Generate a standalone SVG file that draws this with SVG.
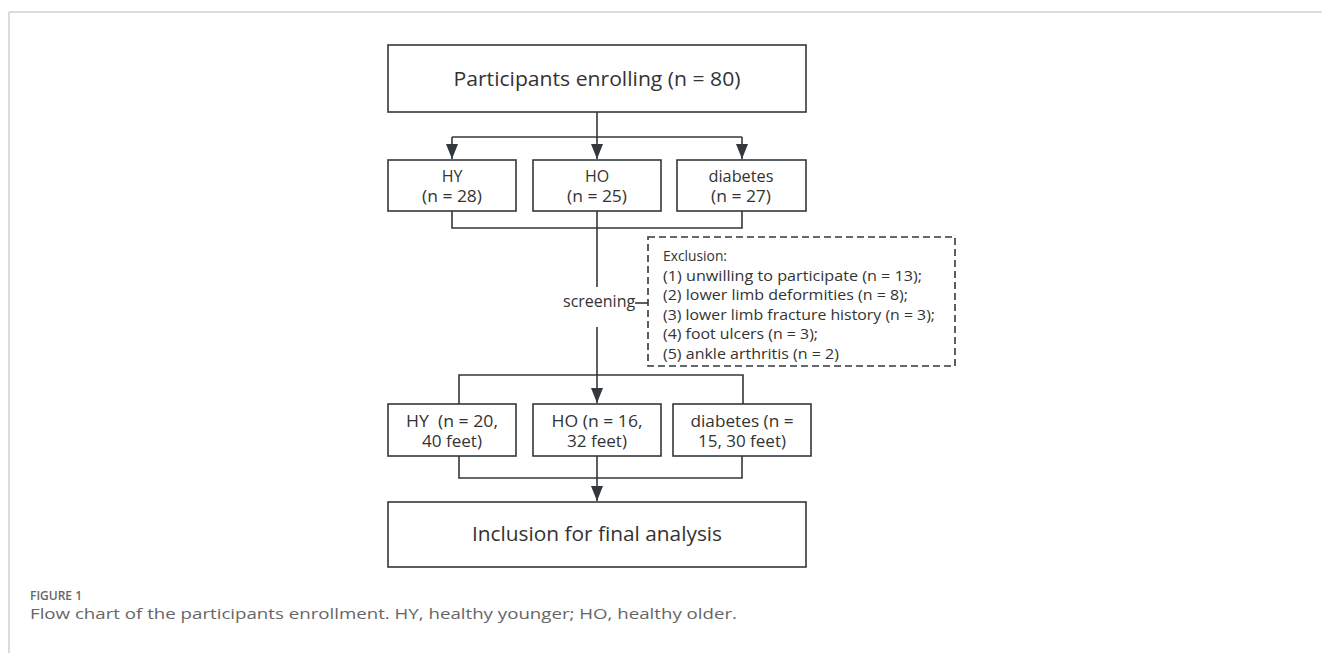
<svg xmlns="http://www.w3.org/2000/svg" width="1322" height="653" viewBox="0 0 1322 653">
<defs>
<style>
.box{fill:#fff;stroke:#33383c;stroke-width:1.6}
.dash{fill:none;stroke:#33383c;stroke-width:1.6;stroke-dasharray:7,4}
.ln{fill:none;stroke:#33383c;stroke-width:1.6}
.t{font-family:"Open Sans","Noto Sans",sans-serif;fill:#333;}
.c{text-anchor:middle}
.cap{font-family:"Open Sans","Noto Sans",sans-serif;fill:#666}
</style>
<marker id="ah" markerWidth="15" markerHeight="12" refX="15" refY="6" orient="auto" markerUnits="userSpaceOnUse" viewBox="0 0 15 12">
<path d="M0,0 L15,6 L0,12 Z" fill="#33383c"/>
</marker>
</defs>
<rect width="1322" height="653" fill="#fff"/>
<g id="frame">
<line x1="9" y1="12" x2="1322" y2="12" stroke="#d0d0d0" stroke-width="1.5"/>
<line x1="9" y1="12" x2="9" y2="653" stroke="#d0d0d0" stroke-width="1.5"/>
</g>
<g id="connectors">
<path class="ln" d="M597,112 V137"/>
<path class="ln" d="M452,137 H742"/>
<path class="ln" d="M452,137 V159" marker-end="url(#ah)"/>
<path class="ln" d="M597,137 V159" marker-end="url(#ah)"/>
<path class="ln" d="M742,137 V159" marker-end="url(#ah)"/>
<path class="ln" d="M452,211 V228 H742 V211"/>
<path class="ln" d="M597,211 V287"/>
<path class="ln" d="M635,303 H648"/>
<path class="ln" d="M597,327 V403" marker-end="url(#ah)"/>
<path class="ln" d="M459,404 V375 H743 V404"/>
<path class="ln" d="M459,456 V478 H742 V456"/>
<path class="ln" d="M597,456 V501" marker-end="url(#ah)"/>
</g>
<g id="n-enroll">
<rect class="box" x="388" y="45" width="418" height="67"/>
<text class="t c" x="597" y="86" font-size="20" textLength="287" lengthAdjust="spacingAndGlyphs">Participants enrolling (n = 80)</text>
</g>
<g id="n-hy1">
<rect class="box" x="388" y="160" width="128" height="51"/>
<text class="t c" x="452" y="182" font-size="16">HY</text>
<text class="t c" x="452" y="202" font-size="16" textLength="60" lengthAdjust="spacingAndGlyphs">(n = 28)</text>
</g>
<g id="n-ho1">
<rect class="box" x="533" y="160" width="128" height="51"/>
<text class="t c" x="597" y="182" font-size="16">HO</text>
<text class="t c" x="597" y="202" font-size="16" textLength="60" lengthAdjust="spacingAndGlyphs">(n = 25)</text>
</g>
<g id="n-db1">
<rect class="box" x="677" y="160" width="129" height="51"/>
<text class="t c" x="741" y="182" font-size="16" textLength="65" lengthAdjust="spacingAndGlyphs">diabetes</text>
<text class="t c" x="741" y="202" font-size="16" textLength="60" lengthAdjust="spacingAndGlyphs">(n = 27)</text>
</g>
<g id="n-screening">
<text class="t" x="563" y="307" font-size="16">screening</text>
</g>
<g id="n-exclusion">
<rect class="dash" x="648" y="237" width="307" height="129"/>
<text class="t" x="663" y="261" font-size="15" textLength="64" lengthAdjust="spacingAndGlyphs">Exclusion:</text>
<text class="t" x="663" y="280.5" font-size="15" textLength="259" lengthAdjust="spacingAndGlyphs">(1) unwilling to participate (n = 13);</text>
<text class="t" x="663" y="300" font-size="15" textLength="245" lengthAdjust="spacingAndGlyphs">(2) lower limb deformities (n = 8);</text>
<text class="t" x="663" y="319.5" font-size="15" textLength="272" lengthAdjust="spacingAndGlyphs">(3) lower limb fracture history (n = 3);</text>
<text class="t" x="663" y="339" font-size="15" textLength="155" lengthAdjust="spacingAndGlyphs">(4) foot ulcers (n = 3);</text>
<text class="t" x="663" y="358.5" font-size="15" textLength="176" lengthAdjust="spacingAndGlyphs">(5) ankle arthritis (n = 2)</text>
</g>
<g id="n-hy2">
<rect class="box" x="388" y="404" width="128" height="52"/>
<text class="t c" x="452" y="427" font-size="16" xml:space="preserve" textLength="92" lengthAdjust="spacingAndGlyphs">HY  (n = 20,</text>
<text class="t c" x="452" y="447" font-size="16" textLength="60" lengthAdjust="spacingAndGlyphs">40 feet)</text>
</g>
<g id="n-ho2">
<rect class="box" x="533" y="404" width="128" height="52"/>
<text class="t c" x="597" y="427" font-size="16" textLength="91" lengthAdjust="spacingAndGlyphs">HO (n = 16,</text>
<text class="t c" x="597" y="447" font-size="16" textLength="60" lengthAdjust="spacingAndGlyphs">32 feet)</text>
</g>
<g id="n-db2">
<rect class="box" x="673" y="404" width="138" height="52"/>
<text class="t c" x="742" y="427" font-size="16" textLength="103" lengthAdjust="spacingAndGlyphs">diabetes (n =</text>
<text class="t c" x="742" y="447" font-size="16" textLength="88" lengthAdjust="spacingAndGlyphs">15, 30 feet)</text>
</g>
<g id="n-final">
<rect class="box" x="388" y="502" width="418" height="65"/>
<text class="t c" x="597" y="541" font-size="20" textLength="250" lengthAdjust="spacingAndGlyphs">Inclusion for final analysis</text>
</g>
<g id="caption">
<text class="cap" x="30" y="600" font-size="12" font-weight="600">FIGURE 1</text>
<text class="cap" x="30" y="619" font-size="15" fill="#555" textLength="707" lengthAdjust="spacingAndGlyphs">Flow chart of the participants enrollment. HY, healthy younger; HO, healthy older.</text>
</g>
</svg>
